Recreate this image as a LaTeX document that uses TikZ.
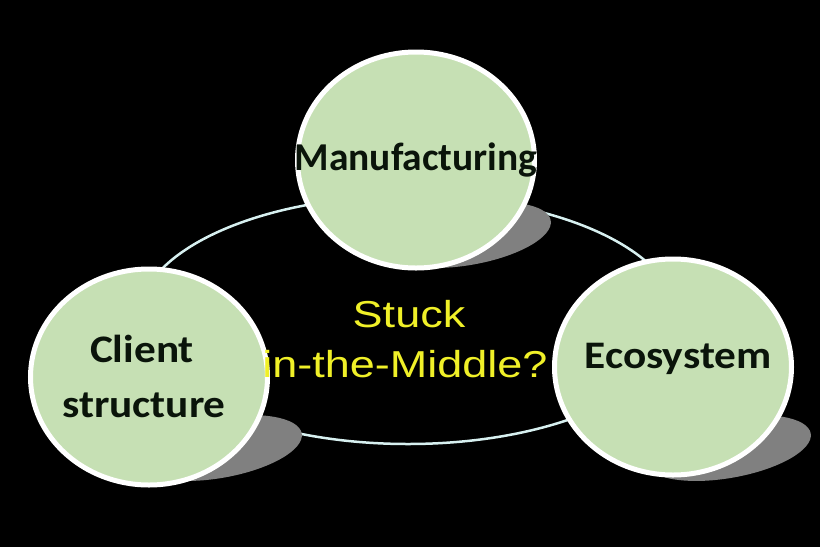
\documentclass[tikz,border=0pt]{standalone}
\usepackage{fontspec}
\usetikzlibrary{shapes.geometric}
\newfontfamily\calb{Carlito}
\newfontfamily\calbw[FakeStretch=1.11]{Carlito}
\newfontfamily\arl[FakeStretch=1.2]{Liberation Sans}
\definecolor{circfill}{RGB}{198,224,180}
\definecolor{ringcol}{RGB}{215,240,240}
\definecolor{shadowgray}{RGB}{128,128,128}
\definecolor{txtyellow}{RGB}{240,240,40}
\definecolor{txtdark}{RGB}{10,20,10}
\begin{document}
\begin{tikzpicture}[x=1pt,y=-1pt,
  bubble/.style={ellipse, draw=white, line width=5pt, fill=circfill, minimum width=237pt, minimum height=216pt, inner sep=0pt},
  shade/.style={ellipse, fill=shadowgray, minimum width=168pt, minimum height=60pt, inner sep=0pt, rotate=10},
  ring/.style={draw=ringcol, line width=2.5pt},
  lbl/.style={anchor=base, text=txtdark, font=\calb\bfseries\fontsize{39.5}{44}\selectfont, inner sep=0pt},
  lblw/.style={anchor=base, text=txtdark, font=\calbw\bfseries\fontsize{39}{44}\selectfont, inner sep=0pt},
  mid/.style={anchor=base, text=txtyellow, font=\arl\fontsize{37.5}{44}\selectfont, inner sep=0pt}]
\fill[black] (0,0) rectangle (820,547);
\useasboundingbox (0,0) rectangle (820,547);
\draw[ring] (408,320) ellipse [x radius=270, y radius=124];
\node[shade] (shm) at (468,235) {};
\node[shade] (shc) at (219,448) {};
\node[shade] (she) at (728,448) {};
\node[bubble] (mfg) at (416,160) {};
\node[bubble] (cli) at (149,377) {};
\node[bubble] (eco) at (673,367) {};
\node[lbl] (tm) at (416,170) {Manufacturing};
\node[lblw] (tc1) at (142,362) {Client};
\node[lblw] (tc2) at (144,417) {structure};
\node[lblw] (te) at (678,368) {Ecosystem};
\node[mid] (ts1) at (409,327) {Stuck};
\node[mid] (ts2) at (405,377) {in-the-Middle?};
\end{tikzpicture}
\end{document}
